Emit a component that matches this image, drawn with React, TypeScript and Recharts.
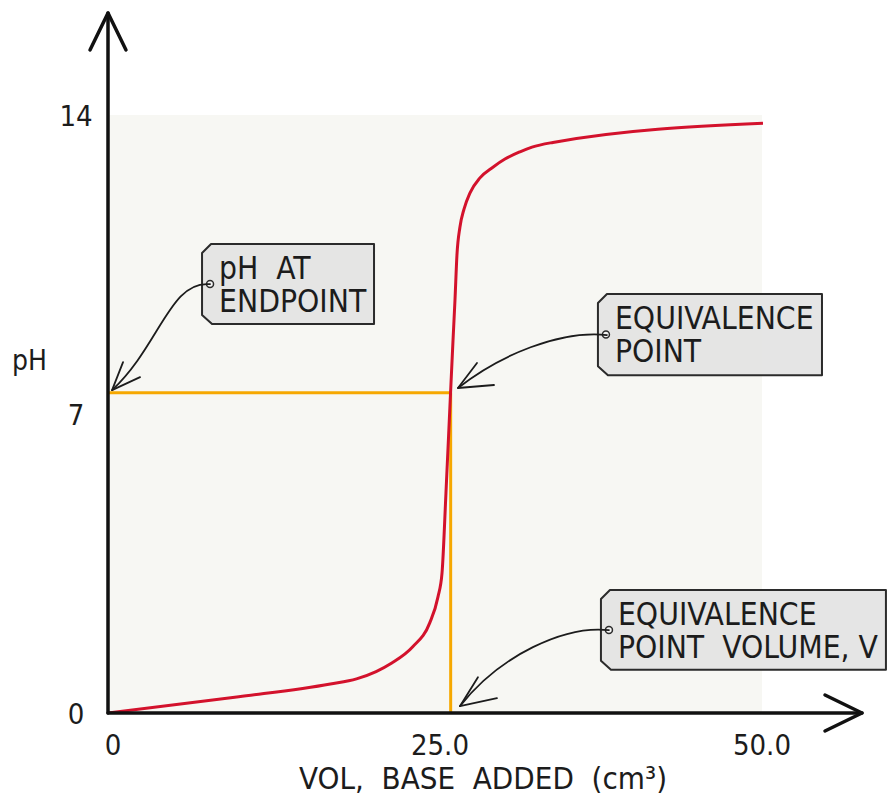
import React from 'react';
import {
  LineChart,
  Line,
  XAxis,
  YAxis,
  ReferenceArea,
  ReferenceLine,
  Label
} from 'recharts';

if (typeof document !== 'undefined') {
  document.body.style.margin = '0';
  document.body.style.overflow = 'hidden';
}

const FONT = '"DejaVu Sans Condensed", "DejaVu Sans", sans-serif';
const INK = '#1c1c1c';

// titration curve: volume of base added (cm3) vs pH
const volume = [0, 10, 17, 19, 20.5, 21.7, 23.3, 24.6, 25.23, 25.54, 25.84, 26.19, 26.38, 26.53, 26.68, 26.91, 27.22, 27.68, 28.44, 29.43, 30.35, 31.5, 32.42, 34.02, 50.08];
const pH = [0, 0.38, 0.68, 0.8, 0.97, 1.17, 1.55, 2.11, 2.72, 3.28, 5.15, 7.49, 8.73, 9.67, 10.72, 11.38, 11.8, 12.18, 12.53, 12.78, 12.97, 13.14, 13.25, 13.36, 13.81];

const xTicks = [0, 25, 50];
const xTickLabels = ['0', '25.0', '50.0'];
const yTicks = [0, 7, 14];

const eqVolume = 26.2;
const eqPH = 7.5;

// axes run a bit past the last tick, to the arrow heads
const X_MAX = 57.65;
const Y_MAX = 16.39;

const tagLabels = [
  ['pH  AT', 'ENDPOINT'],
  ['EQUIVALENCE', 'POINT'],
  ['EQUIVALENCE', 'POINT  VOLUME, V']
];
const tagX = [[7.19, 20.34], [37.46, 54.59], [37.69, 59.48]];
const tagY = [[9.11, 10.98], [7.91, 9.81], [1.01, 2.88]];

// arrow from tag pin to the point it marks
const arrowFrom = [{ x: 7.8, y: 10.04 }, { x: 38.15, y: 8.85 }, { x: 38.3, y: 1.94 }];
const arrowTo = [{ x: 0.31, y: 7.56 }, { x: 26.76, y: 7.61 }, { x: 26.91, y: 0.16 }];
const arrowBend = [
  { c1: [-40, -4], c2: [48, -45], w1: [11, -28], w2: [28, -13] },
  { c1: [-47, -5], c2: [42, -33], w1: [19, -25], w2: [36, -3] },
  { c1: [-44, -5], c2: [40, -51], w1: [18, -29], w2: [37, -8] }
];

const data = volume.map((v, i) => ({ vol: v, ph: pH[i] }));

const AxisArrow = (props: any) => {
  const { x1, y1, x2, y2 } = props;
  const len = Math.hypot(x2 - x1, y2 - y1);
  const ux = (x2 - x1) / len;
  const uy = (y2 - y1) / len;
  const bx = x2 - ux * 37;
  const by = y2 - uy * 37;
  const px = -uy * 18;
  const py = ux * 18;
  return (
    <g stroke="#111" strokeWidth={3.5} fill="none" strokeLinecap="round" strokeLinejoin="round">
      <line x1={x1} y1={y1} x2={x2} y2={y2} />
      <path d={`M${bx + px},${by + py} L${x2},${y2} L${bx - px},${by - py}`} />
    </g>
  );
};

const CurvedArrow = (props: any) => {
  const { x1, y1, x2, y2, bend } = props;
  const { c1, c2, w1, w2 } = bend;
  return (
    <g fill="none" stroke={INK} strokeWidth={1.8} strokeLinecap="round" strokeLinejoin="round">
      <path d={`M${x1},${y1} C${x1 + c1[0]},${y1 + c1[1]} ${x2 + c2[0]},${y2 + c2[1]} ${x2},${y2}`} />
      <path d={`M${x2 + w1[0]},${y2 + w1[1]} L${x2},${y2} L${x2 + w2[0]},${y2 + w2[1]}`} />
    </g>
  );
};

const Tag = (props: any) => {
  const { x, y, width, height, lines } = props;
  const c = 9;
  const d = `M${x},${y + c} L${x + c},${y} L${x + width},${y} L${x + width},${y + height} L${x + c + 1},${y + height} L${x},${y + height - c} Z`;
  return (
    <g>
      <path d={d} fill="#e3e3e3" fillOpacity={0.92} stroke="#2b2b2b" strokeWidth={2} strokeLinejoin="round" />
      <circle cx={x + 8} cy={y + height / 2} r={3.5} fill="#f4f4f4" stroke="#2b2b2b" strokeWidth={1.5} />
      {lines.map((t: string, i: number) => (
        <text
          key={i}
          x={x + 17}
          y={y + 35 + i * 33}
          fontFamily={FONT}
          fontSize={31.5}
          fill={INK}
          style={{ whiteSpace: 'pre' }}
        >
          {t}
        </text>
      ))}
    </g>
  );
};

const XTick = (props: any) => {
  const { x, y, payload } = props;
  const i = xTicks.indexOf(payload.value);
  return (
    <text x={x + (i < 2 ? 5 : 0)} y={y + 42} textAnchor="middle" fontFamily={FONT} fontSize={29} fill={INK}>
      {xTickLabels[i]}
    </text>
  );
};

const YTick = (props: any) => {
  const { x, y, payload } = props;
  return (
    <text x={x - 32} y={y + 11} textAnchor="middle" fontFamily={FONT} fontSize={29} fill={INK}>
      {payload.value}
    </text>
  );
};

const App: React.FC = () => {
  return (
    <div style={{ width: 888, height: 795, background: '#fff' }}>
      <LineChart
        width={888}
        height={795}
        data={data}
        margin={{ top: 13, right: 26, left: 0, bottom: 0 }}
      >
        <XAxis
          dataKey="vol"
          type="number"
          domain={[0, X_MAX]}
          ticks={xTicks}
          allowDataOverflow
          axisLine={false}
          tickLine={false}
          tickSize={0}
          tickMargin={0}
          height={82}
          tick={<XTick />}
        >
          <Label
            content={({ viewBox }: any) => (
              <text
                x={viewBox.x + viewBox.width / 2 - 2}
                y={viewBox.y + 76}
                textAnchor="middle"
                fontFamily={FONT}
                fontSize={31}
                fill={INK}
                style={{ whiteSpace: 'pre' }}
              >
                {'VOL,  BASE  ADDED  (cm³)'}
              </text>
            )}
          />
        </XAxis>
        <YAxis
          type="number"
          domain={[0, Y_MAX]}
          ticks={yTicks}
          allowDataOverflow
          axisLine={false}
          tickLine={false}
          tickSize={0}
          tickMargin={0}
          width={108}
          tick={<YTick />}
        >
          <Label
            content={({ viewBox }: any) => (
              <text x={viewBox.x + 12} y={viewBox.y + 357} fontFamily={FONT} fontSize={28} fill={INK}>
                pH
              </text>
            )}
          />
        </YAxis>

        {/* pale plot panel */}
        <ReferenceArea x1={0} x2={50} y1={0} y2={14} fill="#f7f7f3" fillOpacity={1} stroke="none" />

        {/* equivalence point guides */}
        <ReferenceLine
          segment={[{ x: 0, y: eqPH }, { x: eqVolume, y: eqPH }]}
          stroke="#f6a800"
          strokeWidth={3}
          ifOverflow="visible"
        />
        <ReferenceLine
          segment={[{ x: eqVolume, y: eqPH }, { x: eqVolume, y: 0 }]}
          stroke="#f6a800"
          strokeWidth={3}
          ifOverflow="visible"
        />

        <Line
          dataKey="ph"
          type="monotone"
          stroke="#d3122c"
          strokeWidth={3}
          dot={false}
          isAnimationActive={false}
        />

        {/* axes with arrow heads */}
        <ReferenceLine
          segment={[{ x: 0, y: 0 }, { x: 0, y: Y_MAX }]}
          ifOverflow="visible"
          shape={(p: any) => <AxisArrow {...p} />}
        />
        <ReferenceLine
          segment={[{ x: 0, y: 0 }, { x: X_MAX, y: 0 }]}
          ifOverflow="visible"
          shape={(p: any) => <AxisArrow {...p} />}
        />

        {tagLabels.map((lines, i) => (
          <ReferenceArea
            key={`tag-${i}`}
            x1={tagX[i][0]}
            x2={tagX[i][1]}
            y1={tagY[i][0]}
            y2={tagY[i][1]}
            ifOverflow="visible"
            shape={(p: any) => <Tag {...p} lines={lines} />}
          />
        ))}
        {arrowFrom.map((from, i) => (
          <ReferenceLine
            key={`arrow-${i}`}
            segment={[from, arrowTo[i]]}
            ifOverflow="visible"
            shape={(p: any) => <CurvedArrow {...p} bend={arrowBend[i]} />}
          />
        ))}
      </LineChart>
    </div>
  );
};

export default App;
